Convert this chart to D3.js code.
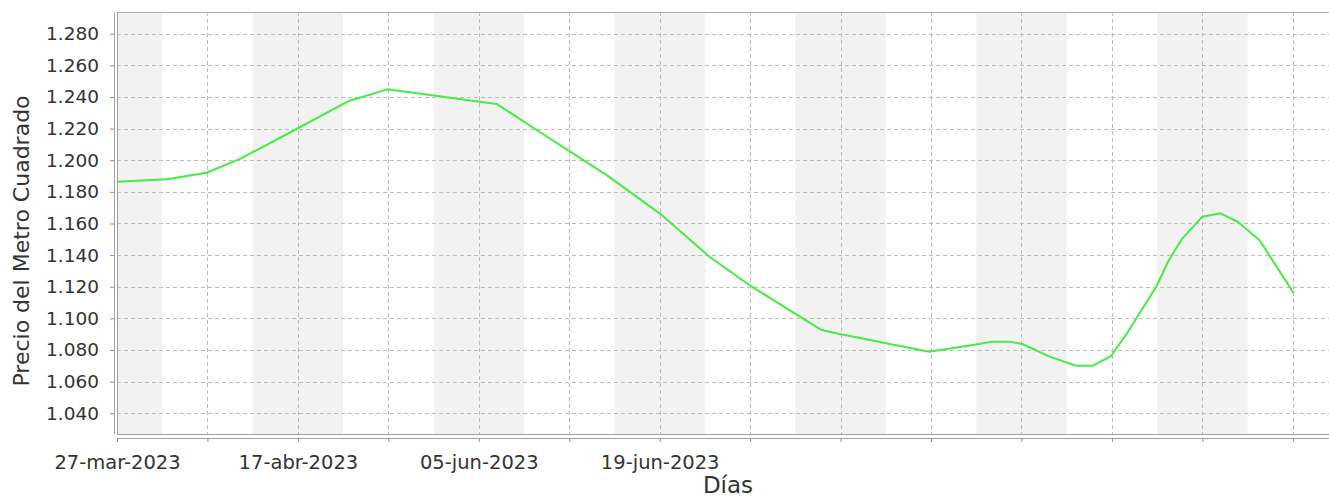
<!DOCTYPE html>
<html lang="es">
<head>
    <meta charset="UTF-8">
    <title>Precio del Metro Cuadrado</title>
    <style>
        body {
            margin: 0;
            background-color: #FFFFFF;
            font-family: "DejaVu Sans", sans-serif;
        }
        .tick text {
            fill: #333333;
        }
    </style>
</head>
<body>
    <div id="chart"></div>

    <script src="https://d3js.org/d3.v7.min.js"></script>
    <script>
        // Datos (posicion en ticks del eje X, precio)
        const posicion = [0.00, 0.55, 0.99, 1.36, 2.00, 2.57, 2.99, 3.38, 4.01, 4.20, 4.67, 5.41, 6.00, 6.55, 6.99,
            7.79, 7.99, 8.98, 9.46, 9.68, 9.87, 10.01, 10.31, 10.60, 10.79, 10.99, 11.16, 11.34, 11.49,
            11.63, 11.78, 12.00, 12.20, 12.39, 12.63, 13.01];
        const precio = [1.1864, 1.1879, 1.1921, 1.2008, 1.2202, 1.2376, 1.2448, 1.2419, 1.2370, 1.2355, 1.2180, 1.1907, 1.1664, 1.1390, 1.1211,
            1.0926, 1.0901, 1.0789, 1.0832, 1.0853, 1.0853, 1.0838, 1.0758, 1.0701, 1.0701, 1.0762, 1.0900, 1.1064, 1.1200,
            1.1369, 1.1506, 1.1643, 1.1664, 1.1611, 1.1496, 1.1159];

        // Etiquetas del eje X (solo algunas tienen texto)
        const etiquetasX = ["27-mar-2023", "", "17-abr-2023", "", "05-jun-2023", "", "19-jun-2023",
            "", "", "", "", "", "", ""];
        const valoresY = [1.04, 1.06, 1.08, 1.10, 1.12, 1.14, 1.16, 1.18, 1.20, 1.22, 1.24, 1.26, 1.28];

        const width = 1329;
        const height = 500;
        const plotLeft = 117, plotRight = 1329, plotTop = 12, plotBottom = 434;

        const svg = d3.select("#chart")
            .append("svg")
            .attr("width", width)
            .attr("height", height);

        const x = d3.scaleLinear().domain([0, 13.4]).range([plotLeft, plotRight]);
        const y = d3.scaleLinear().domain([1.0269, 1.2937]).range([plotBottom, plotTop]);

        // Bandas alternas de fondo
        const bandas = d3.range(0, etiquetasX.length + 1, 2);
        svg.append("g")
            .selectAll("rect")
            .data(bandas)
            .join("rect")
            .attr("x", d => Math.max(plotLeft, x(d - 0.5)))
            .attr("width", d => Math.max(0, Math.min(plotRight, x(d + 0.5)) - Math.max(plotLeft, x(d - 0.5))))
            .attr("y", plotTop)
            .attr("height", plotBottom - plotTop)
            .attr("fill", "#f2f2f2");

        // Rejilla
        const grid = svg.append("g")
            .attr("stroke", "#bcbcbc")
            .attr("stroke-width", 1)
            .attr("stroke-dasharray", "4,3");
        grid.selectAll(".gy")
            .data(valoresY)
            .join("line")
            .attr("x1", plotLeft)
            .attr("x2", plotRight)
            .attr("y1", d => Math.round(y(d)) + 0.5)
            .attr("y2", d => Math.round(y(d)) + 0.5);
        grid.selectAll(".gx")
            .data(d3.range(etiquetasX.length))
            .join("line")
            .attr("x1", d => Math.round(x(d)) + 0.5)
            .attr("x2", d => Math.round(x(d)) + 0.5)
            .attr("y1", plotTop)
            .attr("y2", plotBottom);

        // Borde del area de dibujo
        svg.append("line")
            .attr("x1", plotLeft).attr("x2", plotRight)
            .attr("y1", plotTop + 0.5).attr("y2", plotTop + 0.5)
            .attr("stroke", "#b0b0b0");
        svg.append("line")
            .attr("x1", plotLeft).attr("x2", plotRight)
            .attr("y1", plotBottom + 0.5).attr("y2", plotBottom + 0.5)
            .attr("stroke", "#a0a0a0");
        svg.append("line")
            .attr("x1", plotLeft + 0.5).attr("x2", plotLeft + 0.5)
            .attr("y1", plotTop).attr("y2", plotBottom)
            .attr("stroke", "#a0a0a0");

        // Ejes
        const ejeX = svg.append("g")
            .attr("transform", `translate(0,${plotBottom + 4})`)
            .call(d3.axisBottom(x)
                .tickValues(d3.range(etiquetasX.length))
                .tickFormat(i => etiquetasX[i])
                .tickSizeInner(4)
                .tickSizeOuter(0)
                .tickPadding(13));
        ejeX.selectAll("text").attr("font-size", "19.5px").attr("font-family", "DejaVu Sans");

        const ejeY = svg.append("g")
            .attr("transform", `translate(${plotLeft - 3},0)`)
            .call(d3.axisLeft(y)
                .tickValues(valoresY)
                .tickFormat(d3.format(".3f"))
                .tickSizeInner(4)
                .tickSizeOuter(0)
                .tickPadding(11));
        ejeY.selectAll("text").attr("font-size", "18.5px").attr("font-family", "DejaVu Sans");

        svg.selectAll(".domain").attr("stroke", "#a0a0a0");
        svg.selectAll(".tick line").attr("stroke", "#909090");

        // Linea de la serie
        const linea = d3.line()
            .x((d, i) => x(posicion[i]))
            .y(d => y(d));
        svg.append("path")
            .datum(precio)
            .attr("d", linea)
            .attr("fill", "none")
            .attr("stroke", "#44ec44")
            .attr("stroke-width", 2)
            .attr("stroke-linejoin", "round");

        // Titulos de los ejes
        svg.append("text")
            .attr("x", 728)
            .attr("y", 493)
            .attr("text-anchor", "middle")
            .attr("font-size", "23px")
            .attr("fill", "#333333")
            .text("Días");
        svg.append("text")
            .attr("transform", "translate(29,241) rotate(-90)")
            .attr("text-anchor", "middle")
            .attr("font-size", "22px")
            .attr("fill", "#333333")
            .text("Precio del Metro Cuadrado");
    </script>
</body>
</html>
